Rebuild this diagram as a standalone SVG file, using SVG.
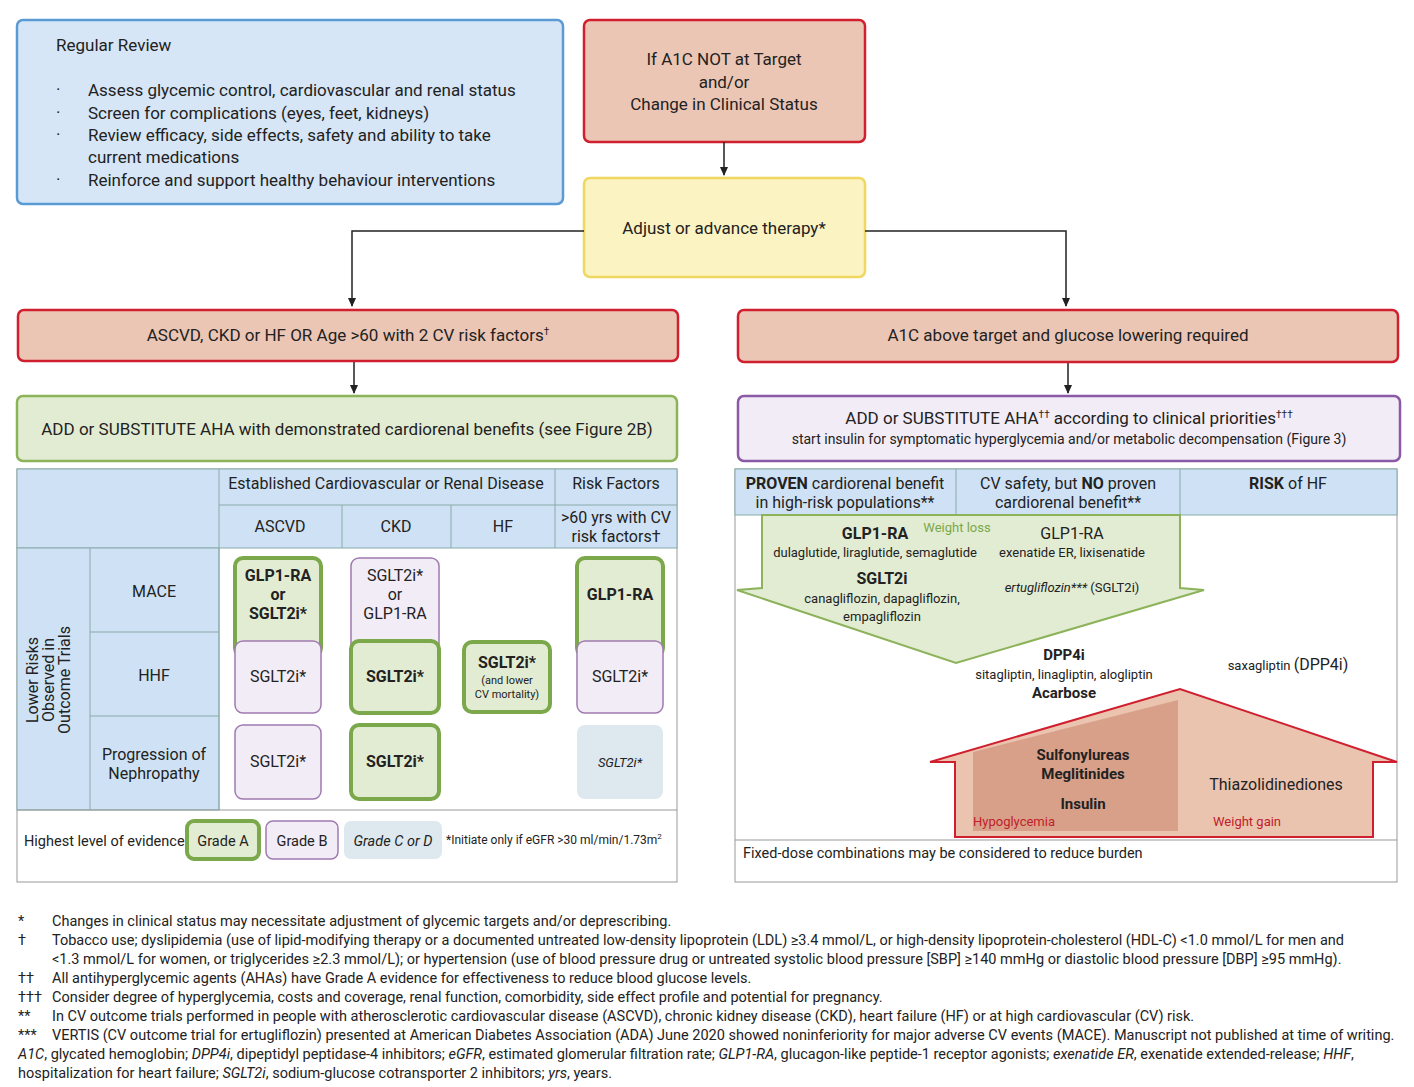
<svg xmlns="http://www.w3.org/2000/svg" width="1414" height="1087" viewBox="0 0 1414 1087">
<style>
text{font-family:Roboto,"Liberation Sans",sans-serif;fill:#222}
.m{font-size:17px}.c{text-anchor:middle}.s{font-size:13px}.b{font-weight:bold}.f{font-size:14.5px}
.red{fill:#ecc6b5;stroke:#d0202f;stroke-width:2.5}
.hd{fill:#cfe2f5;stroke:#8aa;stroke-width:1}
.ga{fill:#e2ecd3;stroke:#7aa84a;stroke-width:4}
.gb{fill:#f2ecf6;stroke:#a07ab0;stroke-width:1.5}
.ln{stroke:#222;stroke-width:1.5;fill:none}
</style>
<defs><marker id="ar" markerWidth="10" markerHeight="10" refX="8" refY="5" orient="auto" markerUnits="userSpaceOnUse"><path d="M0,1 L9,5 L0,9 z" fill="#222"/></marker></defs>
<g id="review"><rect x="17" y="20" width="546" height="184" rx="6" fill="#d6e6f7" stroke="#5b9bd5" stroke-width="2.5"/>
<text x="56" y="51" class="m">Regular Review</text>
<g class="m"><text x="56" y="95">·</text><text x="56" y="118">·</text><text x="56" y="140">·</text><text x="56" y="185">·</text></g>
<text x="88" y="96" class="m">Assess glycemic control, cardiovascular and renal status</text>
<text x="88" y="119" class="m">Screen for complications (eyes, feet, kidneys)</text>
<text x="88" y="141" class="m">Review efficacy, side effects, safety and ability to take</text>
<text x="88" y="163" class="m">current medications</text>
<text x="88" y="186" class="m">Reinforce and support healthy behaviour interventions</text></g>
<g id="notTarget"><rect x="584" y="20" width="281" height="122" rx="6" class="red"/>
<text x="724" y="65" class="m c">If A1C NOT at Target</text><text x="724" y="88" class="m c">and/or</text><text x="724" y="110" class="m c">Change in Clinical Status</text></g>
<g id="adjust"><rect x="584" y="178" width="281" height="99" rx="6" fill="#fbf3c1" stroke="#f0d860" stroke-width="2.5"/>
<text x="724" y="234" class="m c">Adjust or advance therapy*</text></g>
<g id="connectors">
<line x1="724" y1="142" x2="724" y2="175" class="ln" marker-end="url(#ar)"/>
<polyline points="584,231 352,231 352,306" class="ln" marker-end="url(#ar)"/>
<polyline points="865,231 1066,231 1066,306" class="ln" marker-end="url(#ar)"/>
<line x1="354" y1="362" x2="354" y2="393" class="ln" marker-end="url(#ar)"/>
<line x1="1068" y1="363" x2="1068" y2="393" class="ln" marker-end="url(#ar)"/>
</g>
<g id="ascvd"><rect x="18" y="310" width="660" height="51" rx="6" class="red"/>
<text x="348" y="341" class="m c">ASCVD, CKD or HF OR Age &gt;60 with 2 CV risk factors<tspan font-size="10" dy="-6">†</tspan></text></g>
<g id="a1cabove"><rect x="738" y="310" width="660" height="52" rx="6" class="red"/>
<text x="1068" y="341" class="m c">A1C above target and glucose lowering required</text></g>
<g id="addCardio"><rect x="17" y="396" width="660" height="65" rx="6" fill="#e2ecd3" stroke="#8cb35a" stroke-width="2.5"/>
<text x="347" y="435" class="m c">ADD or SUBSTITUTE AHA with demonstrated cardiorenal benefits (see Figure 2B)</text></g>
<g id="addClinical"><rect x="738" y="396" width="662" height="65" rx="6" fill="#f2ecf7" stroke="#8a5aa6" stroke-width="2.5"/>
<text x="1069" y="424" class="m c">ADD or SUBSTITUTE AHA<tspan font-size="10" dy="-6">††</tspan><tspan dy="6"> according to clinical priorities</tspan><tspan font-size="10" dy="-6">†††</tspan></text>
<text x="1069" y="444" class="c" font-size="14">start insulin for symptomatic hyperglycemia and/or metabolic decompensation (Figure 3)</text></g>
<g id="leftTable">
<rect x="17" y="469" width="660" height="413" fill="#fff" stroke="#999"/>
<rect x="17" y="469" width="660" height="79" class="hd"/>
<rect x="17" y="548" width="202" height="262" class="hd"/>
<line x1="219" y1="469" x2="219" y2="810" stroke="#8aa"/>
<line x1="219" y1="505" x2="677" y2="505" stroke="#8aa"/>
<line x1="555" y1="469" x2="555" y2="548" stroke="#8aa"/>
<line x1="342" y1="505" x2="342" y2="548" stroke="#8aa"/>
<line x1="451" y1="505" x2="451" y2="548" stroke="#8aa"/>
<line x1="90" y1="548" x2="90" y2="810" stroke="#8aa"/>
<line x1="90" y1="632" x2="219" y2="632" stroke="#8aa"/>
<line x1="90" y1="716" x2="219" y2="716" stroke="#8aa"/>
<line x1="17" y1="810" x2="677" y2="810" stroke="#999"/>
<text x="386" y="489" class="c" font-size="16">Established Cardiovascular or Renal Disease</text>
<text x="616" y="489" class="c" font-size="16">Risk Factors</text>
<text x="280" y="532" class="c" font-size="16">ASCVD</text><text x="396" y="532" class="c" font-size="16">CKD</text><text x="503" y="532" class="c" font-size="16">HF</text>
<text x="616" y="523" class="c" font-size="16">&gt;60 yrs with CV</text><text x="616" y="542" class="c" font-size="16">risk factors†</text>
<g transform="translate(50,680) rotate(-90)" font-size="16"><text x="0" y="-12" class="c">Lower Risks</text><text x="0" y="4" class="c">Observed in</text><text x="0" y="20" class="c">Outcome Trials</text></g>
<text x="154" y="597" class="c" font-size="16">MACE</text><text x="154" y="681" class="c" font-size="16">HHF</text>
<text x="154" y="760" class="c" font-size="16">Progression of</text><text x="154" y="779" class="c" font-size="16">Nephropathy</text>
<rect x="235" y="558" width="86" height="98" rx="8" class="ga"/>
<text x="278" y="581" class="c b" font-size="16">GLP1-RA</text><text x="278" y="600" class="c b" font-size="16">or</text><text x="278" y="619" class="c b" font-size="16">SGLT2i*</text>
<rect x="351" y="558" width="88" height="98" rx="8" class="gb"/>
<text x="395" y="581" class="c" font-size="16">SGLT2i*</text><text x="395" y="600" class="c" font-size="16">or</text><text x="395" y="619" class="c" font-size="16">GLP1-RA</text>
<rect x="577" y="558" width="86" height="98" rx="8" class="ga"/><text x="620" y="600" class="c b" font-size="16">GLP1-RA</text>
<rect x="235" y="641" width="86" height="72" rx="8" class="gb"/><text x="278" y="682" class="c" font-size="16">SGLT2i*</text>
<rect x="351" y="641" width="88" height="72" rx="8" class="ga"/><text x="395" y="682" class="c b" font-size="16">SGLT2i*</text>
<rect x="464" y="642" width="86" height="70" rx="8" class="ga"/><text x="507" y="668" class="c b" font-size="16">SGLT2i*</text>
<text x="507" y="684" class="c" font-size="11">(and lower</text><text x="507" y="698" class="c" font-size="11">CV mortality)</text>
<rect x="577" y="641" width="86" height="72" rx="8" class="gb"/><text x="620" y="682" class="c" font-size="16">SGLT2i*</text>
<rect x="235" y="725" width="86" height="74" rx="8" class="gb"/><text x="278" y="767" class="c" font-size="16">SGLT2i*</text>
<rect x="351" y="725" width="88" height="74" rx="8" class="ga"/><text x="395" y="767" class="c b" font-size="16">SGLT2i*</text>
<rect x="577" y="725" width="86" height="74" rx="8" fill="#dde9ef"/><text x="620" y="767" class="c" font-size="13" font-style="italic">SGLT2i*</text>
<text x="24" y="846" font-size="14.5">Highest level of evidence:</text>
<rect x="187" y="821" width="72" height="38" rx="7" class="ga" stroke-width="3"/><text x="223" y="846" class="c" font-size="14.5">Grade A</text>
<rect x="266" y="821" width="72" height="38" rx="7" class="gb"/><text x="302" y="846" class="c" font-size="14.5">Grade B</text>
<rect x="344" y="821" width="98" height="38" rx="7" fill="#dde9ef"/><text x="393" y="846" class="c" font-size="14.5" font-style="italic">Grade C or D</text>
<text x="446" y="844" font-size="12">*Initiate only if eGFR &gt;30 ml/min/1.73m<tspan font-size="8" dy="-5">2</tspan></text>
</g>
<g id="rightTable">
<rect x="735" y="469" width="662" height="413" fill="#fff" stroke="#999"/>
<rect x="735" y="469" width="662" height="46" class="hd"/>
<line x1="956" y1="469" x2="956" y2="515" stroke="#8aa"/><line x1="1180" y1="469" x2="1180" y2="515" stroke="#8aa"/>
<line x1="735" y1="840" x2="1397" y2="840" stroke="#999"/>
<text x="845" y="489" class="c" font-size="16"><tspan class="b">PROVEN</tspan> cardiorenal benefit</text>
<text x="845" y="508" class="c" font-size="16">in high-risk populations**</text>
<text x="1068" y="489" class="c" font-size="16">CV safety, but <tspan class="b">NO</tspan> proven</text>
<text x="1068" y="508" class="c" font-size="16">cardiorenal benefit**</text>
<text x="1288" y="489" class="c" font-size="16"><tspan class="b">RISK</tspan> of HF</text>
<polygon points="762,515 1180,515 1180,588 1204,590 956,663 737,590 762,588" fill="#e2ecd3" stroke="#8cb35a" stroke-width="2"/>
<text x="875" y="539" class="c b" font-size="16">GLP1-RA</text>
<text x="957" y="532" class="c" font-size="13" fill="#7aa84a" style="fill:#7aa84a">Weight loss</text>
<text x="1072" y="539" class="c" font-size="16">GLP1-RA</text>
<text x="875" y="557" class="c s">dulaglutide, liraglutide, semaglutide</text>
<text x="1072" y="557" class="c s">exenatide ER, lixisenatide</text>
<text x="882" y="584" class="c b" font-size="16">SGLT2i</text>
<text x="882" y="603" class="c s">canagliflozin, dapagliflozin,</text>
<text x="882" y="621" class="c s">empagliflozin</text>
<text x="1072" y="592" class="c s"><tspan font-style="italic">ertugliflozin***</tspan> (SGLT2i)</text>
<text x="1064" y="660" class="c b" font-size="15">DPP4i</text>
<text x="1064" y="679" class="c s">sitagliptin, linagliptin, alogliptin</text>
<text x="1064" y="698" class="c b" font-size="15">Acarbose</text>
<text x="1288" y="670" class="c s">saxagliptin <tspan font-size="16">(DPP4i)</tspan></text>
<polygon points="955,837 955,762 930,762 1180,689 1397,762 1373,762 1373,837" fill="#ebc4b0" stroke="#d0202f" stroke-width="2"/>
<polygon points="973,831 973,752 1178,700 1178,831" fill="#d9a089"/>
<text x="1083" y="760" class="c b" font-size="15">Sulfonylureas</text>
<text x="1083" y="779" class="c b" font-size="15">Meglitinides</text>
<text x="1083" y="809" class="c b" font-size="15">Insulin</text>
<text x="973" y="826" font-size="13" style="fill:#c0202a">Hypoglycemia</text>
<text x="1276" y="790" class="c" font-size="16">Thiazolidinediones</text>
<text x="1213" y="826" font-size="13" style="fill:#c0202a">Weight gain</text>
<text x="743" y="858" font-size="14.5">Fixed-dose combinations may be considered to reduce burden</text>
</g>
<g id="footnotes" class="f">
<text x="18" y="926" class="f">*</text><text x="52" y="926" class="f">Changes in clinical status may necessitate adjustment of glycemic targets and/or deprescribing.</text>
<text x="18" y="945" class="f">†</text><text x="52" y="945" class="f">Tobacco use; dyslipidemia (use of lipid-modifying therapy or a documented untreated low-density lipoprotein (LDL) ≥3.4 mmol/L, or high-density lipoprotein-cholesterol (HDL-C) &lt;1.0 mmol/L for men and</text>
<text x="52" y="964" class="f">&lt;1.3 mmol/L for women, or triglycerides ≥2.3 mmol/L); or hypertension (use of blood pressure drug or untreated systolic blood pressure [SBP] ≥140 mmHg or diastolic blood pressure [DBP] ≥95 mmHg).</text>
<text x="18" y="983" class="f">††</text><text x="52" y="983" class="f">All antihyperglycemic agents (AHAs) have Grade A evidence for effectiveness to reduce blood glucose levels.</text>
<text x="18" y="1002" class="f">†††</text><text x="52" y="1002" class="f">Consider degree of hyperglycemia, costs and coverage, renal function, comorbidity, side effect profile and potential for pregnancy.</text>
<text x="18" y="1021" class="f">**</text><text x="52" y="1021" class="f">In CV outcome trials performed in people with atherosclerotic cardiovascular disease (ASCVD), chronic kidney disease (CKD), heart failure (HF) or at high cardiovascular (CV) risk.</text>
<text x="18" y="1040" class="f">***</text><text x="52" y="1040" class="f">VERTIS (CV outcome trial for ertugliflozin) presented at American Diabetes Association (ADA) June 2020 showed noninferiority for major adverse CV events (MACE). Manuscript not published at time of writing.</text>
<text x="18" y="1059" class="f"><tspan font-style="italic">A1C</tspan>, glycated hemoglobin; <tspan font-style="italic">DPP4i</tspan>, dipeptidyl peptidase-4 inhibitors; <tspan font-style="italic">eGFR</tspan>, estimated glomerular filtration rate; <tspan font-style="italic">GLP1-RA</tspan>, glucagon-like peptide-1 receptor agonists; <tspan font-style="italic">exenatide ER</tspan>, exenatide extended-release; <tspan font-style="italic">HHF</tspan>,</text>
<text x="18" y="1078" class="f">hospitalization for heart failure; <tspan font-style="italic">SGLT2i</tspan>, sodium-glucose cotransporter 2 inhibitors; <tspan font-style="italic">yrs</tspan>, years.</text>
</g>
</svg>
